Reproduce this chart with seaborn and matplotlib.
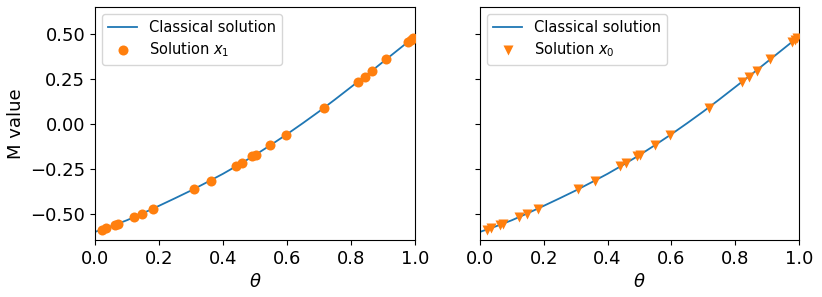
import numpy as np
import pandas as pd
import matplotlib
matplotlib.use("Agg")
import matplotlib.pyplot as plt
import seaborn as sns

# classical curve
theta_line = [0.0, 0.05, 0.1, 0.15, 0.2, 0.25, 0.3, 0.35, 0.4, 0.45, 0.5,
              0.55, 0.6, 0.65, 0.7, 0.75, 0.8, 0.85, 0.9, 0.95, 1.0]
m_line = [-0.600, -0.569, -0.535, -0.496, -0.455, -0.413, -0.370, -0.324,
          -0.277, -0.226, -0.173, -0.116, -0.057, 0.005, 0.069, 0.136,
          0.205, 0.274, 0.345, 0.416, 0.487]

# sampled theta values and solutions
theta_pts = [0.023, 0.033, 0.0625, 0.073, 0.123, 0.147, 0.182, 0.308, 0.361,
             0.440, 0.459, 0.492, 0.502, 0.548, 0.596, 0.717, 0.821, 0.844,
             0.867, 0.909, 0.977, 0.986, 0.993]
m_x1 = [-0.587, -0.580, -0.559, -0.554, -0.519, -0.498, -0.472, -0.364, -0.316,
        -0.236, -0.216, -0.180, -0.171, -0.119, -0.061, 0.091, 0.234, 0.262,
        0.297, 0.359, 0.455, 0.468, 0.480]
m_x0 = [-0.587, -0.580, -0.559, -0.554, -0.519, -0.498, -0.472, -0.364, -0.316,
        -0.236, -0.216, -0.180, -0.171, -0.119, -0.061, 0.091, 0.234, 0.262,
        0.297, 0.359, 0.455, 0.468, 0.480]

line_df = pd.DataFrame({'theta': theta_line, 'M': m_line})
pts_df = pd.DataFrame({'theta': theta_pts, 'x1': m_x1, 'x0': m_x0})

fig = plt.figure(figsize=(8.22, 2.97), dpi=100)
ax1 = fig.add_axes([95 / 822, 57 / 297, 320 / 822, 233 / 297])
ax2 = fig.add_axes([480 / 822, 57 / 297, 319 / 822, 233 / 297], sharey=ax1)

panels = [(ax1, 'x1', 'o', r'Solution $x_1$'), (ax2, 'x0', 'v', r'Solution $x_0$')]
for ax, col, marker, label in panels:
    sns.lineplot(x='theta', y='M', data=line_df, ax=ax, color='C0',
                 linewidth=1.3, label='Classical solution')
    sns.scatterplot(x='theta', y=col, data=pts_df, ax=ax, color='C1',
                    marker=marker, s=52, linewidth=0, label=label, zorder=3)
    ax.set_xlim(0, 1)
    ax.set_xticks([0.0, 0.2, 0.4, 0.6, 0.8, 1.0])
    ax.set_xlabel(r'$\theta$', fontsize=13)
    ax.tick_params(labelsize=13)
    ax.legend(loc='upper left', fontsize=10.5, labelspacing=0.35)

ax1.set_ylim(-0.645, 0.65)
ax1.set_yticks([-0.5, -0.25, 0.0, 0.25, 0.5])
ax1.set_ylabel('M value', fontsize=13)
ax2.set_ylabel('')
ax2.tick_params(labelleft=False)

fig.savefig('out.png', dpi=100)
